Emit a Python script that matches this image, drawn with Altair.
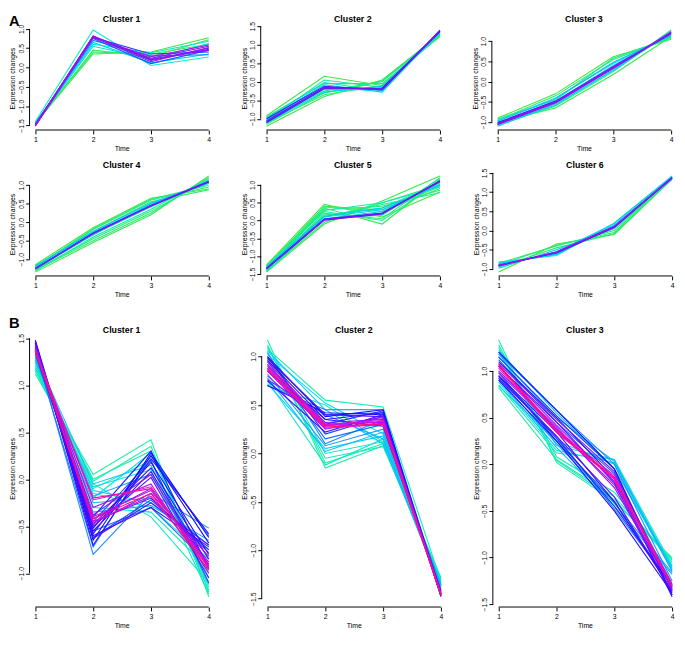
import altair as alt
import pandas as pd

FONT = "Liberation Sans"
time_points = [1, 2, 3, 4]

# ---------------- Panel A ----------------
a1_profiles = [
    [-1.45, 0.35, 0.40, 0.77], [-1.47, 0.45, 0.28, 0.72], [-1.42, 0.40, 0.35, 0.60],
    [-1.40, 0.97, 0.05, 0.27], [-1.44, 0.60, 0.38, 0.68], [-1.46, 0.55, 0.22, 0.62],
    [-1.43, 0.65, 0.12, 0.35], [-1.48, 0.70, 0.30, 0.33], [-1.50, 0.75, 0.10, 0.45],
    [-1.47, 0.78, 0.35, 0.40], [-1.50, 0.80, 0.20, 0.50], [-1.49, 0.82, 0.18, 0.47],
    [-1.51, 0.78, 0.24, 0.55], [-1.48, 0.79, 0.15, 0.52], [-1.50, 0.81, 0.22, 0.45],
    [-1.52, 0.77, 0.28, 0.58],
]
a1_membership = [0.30, 0.32, 0.35, 0.45, 0.48, 0.52, 0.55, 0.65, 0.70, 0.72,
                 0.85, 0.88, 0.90, 0.92, 0.93, 0.95]

a2_profiles = [
    [-0.92, 0.15, -0.10, 1.25], [-1.20, -0.40, 0.05, 1.28], [-1.15, -0.30, 0.02, 1.30],
    [-0.95, -0.05, -0.05, 1.22], [-1.10, -0.35, -0.10, 1.32], [-1.00, -0.25, 0.00, 1.27],
    [-1.05, 0.05, -0.15, 1.30], [-0.98, -0.02, -0.25, 1.33], [-1.12, -0.20, -0.22, 1.35],
    [-1.02, -0.08, -0.28, 1.38], [-1.08, -0.28, -0.12, 1.31], [-1.05, -0.15, -0.20, 1.37],
    [-1.10, -0.18, -0.17, 1.36], [-1.00, -0.12, -0.22, 1.40], [-1.07, -0.16, -0.19, 1.38],
    [-1.08, -0.17, -0.20, 1.37],
]
a2_membership = [0.30, 0.32, 0.33, 0.35, 0.36, 0.38, 0.40, 0.50, 0.52, 0.55, 0.57,
                 0.70, 0.75, 0.80, 0.85, 0.90]

a3_profiles = [
    [-0.90, -0.30, 0.62, 1.05], [-1.00, -0.65, 0.18, 1.12], [-0.95, -0.35, 0.55, 1.08],
    [-1.08, -0.60, 0.25, 1.28], [-0.92, -0.45, 0.58, 1.10], [-0.97, -0.40, 0.45, 1.15],
    [-1.05, -0.58, 0.30, 1.25], [-1.02, -0.48, 0.40, 1.18], [-1.10, -0.55, 0.28, 1.22],
    [-0.98, -0.42, 0.48, 1.14], [-1.03, -0.50, 0.35, 1.20], [-1.05, -0.52, 0.33, 1.22],
    [-1.01, -0.48, 0.38, 1.19], [-1.04, -0.50, 0.36, 1.21], [-1.06, -0.52, 0.34, 1.23],
]
a3_membership = [0.30, 0.32, 0.35, 0.36, 0.38, 0.50, 0.52, 0.55, 0.57, 0.60,
                 0.72, 0.78, 0.82, 0.93, 0.95]

a4_profiles = [
    [-1.15, -0.15, 0.65, 0.90], [-1.35, -0.55, 0.20, 1.25], [-1.20, -0.20, 0.60, 0.95],
    [-1.30, -0.50, 0.25, 1.20], [-1.18, -0.25, 0.55, 0.88], [-1.28, -0.45, 0.30, 1.15],
    [-1.22, -0.18, 0.62, 1.00], [-1.32, -0.40, 0.35, 1.18], [-1.25, -0.35, 0.50, 1.05],
    [-1.24, -0.28, 0.48, 1.05], [-1.27, -0.33, 0.42, 1.12], [-1.20, -0.25, 0.52, 1.08],
    [-1.26, -0.30, 0.45, 1.10], [-1.25, -0.30, 0.44, 1.09], [-1.26, -0.31, 0.45, 1.11],
]
a4_membership = [0.30, 0.32, 0.33, 0.35, 0.36, 0.37, 0.38, 0.40, 0.42, 0.52,
                 0.55, 0.58, 0.75, 0.80, 0.92]

a5_profiles = [
    [-1.25, 0.45, 0.10, 0.80], [-1.30, 0.40, 0.30, 0.95], [-1.45, -0.10, 0.55, 1.25],
    [-1.40, 0.35, -0.10, 1.15], [-1.28, 0.30, 0.40, 0.85], [-1.35, 0.20, 0.05, 1.20],
    [-1.42, -0.05, 0.50, 1.00], [-1.32, 0.38, 0.25, 0.90], [-1.38, 0.10, 0.45, 0.78],
    [-1.27, 0.25, 0.00, 1.10], [-1.36, 0.15, 0.35, 1.05], [-1.44, 0.05, 0.15, 1.18],
    [-1.33, 0.28, 0.50, 0.95], [-1.34, 0.10, 0.30, 1.02], [-1.37, 0.05, 0.25, 1.08],
    [-1.31, 0.12, 0.35, 0.98], [-1.35, 0.03, 0.20, 1.10], [-1.36, 0.01, 0.18, 1.12],
    [-1.34, 0.04, 0.21, 1.09], [-1.35, 0.02, 0.19, 1.11],
]
a5_membership = [0.30, 0.31, 0.32, 0.33, 0.34, 0.35, 0.36, 0.37, 0.38, 0.39, 0.40,
                 0.41, 0.42, 0.52, 0.55, 0.58, 0.75, 0.80, 0.85, 0.90]

a6_profiles = [
    [-1.08, -0.35, -0.10, 1.35], [-0.85, -0.40, 0.00, 1.40], [-0.95, -0.45, -0.08, 1.33],
    [-0.90, -0.38, -0.05, 1.38], [-0.82, -0.65, 0.20, 1.42], [-0.88, -0.60, 0.15, 1.36],
    [-0.93, -0.55, 0.18, 1.40], [-0.86, -0.62, 0.12, 1.34], [-0.98, -0.50, 0.05, 1.39],
    [-0.90, -0.58, 0.08, 1.37], [-0.92, -0.56, 0.10, 1.38], [-0.90, -0.57, 0.10, 1.37],
    [-0.91, -0.56, 0.11, 1.36],
]
a6_membership = [0.30, 0.32, 0.35, 0.37, 0.50, 0.53, 0.55, 0.58, 0.60, 0.75, 0.80,
                 0.92, 0.95]

# ---------------- Panel B ----------------
b1_profiles = [
    [1.12, 0.05, 0.42, -1.25], [1.18, -0.02, 0.35, -1.20], [1.20, 0.00, 0.30, -1.15],
    [1.15, -0.05, -0.40, -1.10], [1.22, -0.10, 0.20, -1.18], [1.25, -0.30, -0.35, -0.95],
    [1.17, -0.08, 0.10, -1.22], [1.28, -0.15, -0.30, -0.85], [1.30, -0.20, 0.28, -1.05],
    [1.25, -0.12, -0.25, -0.75], [1.32, -0.05, 0.15, -1.12], [1.27, -0.25, -0.20, -0.70],
    [1.35, -0.18, 0.05, -1.00], [1.30, -0.35, -0.28, -0.65], [1.38, -0.80, -0.15, -0.52],
    [1.36, -0.72, 0.25, -0.60], [1.40, -0.55, -0.30, -0.90], [1.33, -0.45, 0.20, -1.10],
    [1.42, -0.62, -0.22, -0.75], [1.37, -0.40, 0.30, -0.95], [1.45, -0.65, 0.28, -0.62],
    [1.48, -0.58, 0.25, -0.68], [1.44, -0.52, 0.18, -0.80], [1.47, -0.70, 0.22, -0.58],
    [1.43, -0.48, 0.12, -0.85], [1.46, -0.60, -0.30, -0.72], [1.41, -0.55, 0.08, -0.92],
    [1.45, -0.63, -0.25, -0.70], [1.40, -0.50, 0.02, -1.05], [1.44, -0.45, -0.20, -0.78],
    [1.42, -0.42, -0.10, -0.88], [1.39, -0.38, 0.05, -0.95], [1.41, -0.47, -0.15, -0.82],
    [1.38, -0.30, -0.05, -1.00], [1.37, -0.40, -0.12, -0.90], [1.36, -0.22, -0.08, -0.95],
    [1.38, -0.45, -0.18, -0.92], [1.35, -0.20, -0.10, -0.93], [1.36, -0.42, -0.15, -0.97],
]
b1_membership = [0.30, 0.31, 0.32, 0.33, 0.34, 0.35, 0.36, 0.37, 0.40, 0.42, 0.43, 0.45,
                 0.47, 0.48, 0.50, 0.52, 0.53, 0.55, 0.56, 0.58, 0.60, 0.61, 0.62, 0.63,
                 0.64, 0.65, 0.66, 0.67, 0.68, 0.69, 0.72, 0.74, 0.76, 0.78, 0.82, 0.85,
                 0.87, 0.92, 0.95]

b2_profiles = [
    [1.17, -0.15, 0.08, -1.28], [1.12, -0.10, 0.10, -1.30], [1.08, 0.55, 0.48, -1.32],
    [0.70, 0.50, 0.12, -1.35], [1.05, -0.05, 0.07, -1.29], [0.75, -0.12, 0.15, -1.33],
    [1.10, 0.00, 0.12, -1.31], [1.02, 0.52, 0.20, -1.36], [0.72, 0.05, 0.18, -1.34],
    [1.06, 0.45, 0.10, -1.38], [0.78, 0.02, 0.22, -1.37], [0.98, 0.40, 0.15, -1.40],
    [0.82, 0.08, 0.25, -1.36], [1.04, 0.10, 0.35, -1.42], [0.70, 0.45, 0.45, -1.43],
    [0.95, 0.15, 0.30, -1.41], [0.76, 0.40, 0.42, -1.44], [1.00, 0.20, 0.38, -1.42],
    [0.85, 0.35, 0.28, -1.43], [1.00, 0.38, 0.45, -1.46], [0.96, 0.35, 0.42, -1.47],
    [0.70, 0.42, 0.40, -1.45], [0.92, 0.30, 0.44, -1.48], [0.75, 0.22, 0.40, -1.46],
    [0.98, 0.40, 0.38, -1.47], [0.90, 0.32, 0.35, -1.46], [0.85, 0.25, 0.38, -1.45],
    [0.95, 0.30, 0.32, -1.47], [0.80, 0.28, 0.36, -1.44], [0.88, 0.29, 0.33, -1.45],
    [0.86, 0.26, 0.30, -1.46], [0.92, 0.30, 0.34, -1.45], [0.88, 0.28, 0.30, -1.45],
    [0.87, 0.27, 0.31, -1.46],
]
b2_membership = [0.30, 0.31, 0.32, 0.33, 0.34, 0.35, 0.36, 0.40, 0.42, 0.43, 0.45, 0.46,
                 0.48, 0.50, 0.52, 0.53, 0.55, 0.56, 0.58, 0.60, 0.62, 0.63, 0.65, 0.66,
                 0.68, 0.72, 0.74, 0.76, 0.78, 0.82, 0.85, 0.87, 0.92, 0.95]

b3_profiles = [
    [1.33, 0.02, -0.40, -1.00], [0.82, 0.05, -0.35, -1.02], [1.28, 0.08, -0.30, -1.05],
    [0.85, 0.12, 0.05, -1.08], [1.25, 0.04, -0.38, -1.03], [0.88, 0.15, 0.02, -1.10],
    [1.20, 0.20, 0.05, -1.12], [0.84, 0.25, 0.00, -1.15], [1.22, 0.55, -0.05, -1.10],
    [0.90, 0.18, -0.45, -1.18], [1.15, 0.50, 0.03, -1.14], [0.92, 0.22, -0.42, -1.16],
    [1.18, 0.58, 0.00, -1.25], [0.95, 0.30, -0.48, -1.30], [1.12, 0.45, -0.10, -1.28],
    [0.98, 0.25, -0.40, -1.32], [1.15, 0.52, -0.05, -1.35], [0.94, 0.28, -0.45, -1.30],
    [1.20, 0.58, -0.05, -1.40], [0.90, 0.25, -0.50, -1.38], [1.10, 0.50, -0.15, -1.42],
    [0.95, 0.35, -0.40, -1.36], [1.05, 0.45, -0.20, -1.40], [0.92, 0.30, -0.35, -1.37],
    [1.08, 0.48, -0.08, -1.35], [1.00, 0.40, -0.25, -1.33], [1.05, 0.42, -0.18, -1.34],
    [0.98, 0.38, -0.22, -1.32], [1.06, 0.37, -0.12, -1.30], [1.03, 0.34, -0.16, -1.31],
    [1.05, 0.35, -0.15, -1.30], [1.07, 0.36, -0.14, -1.29],
]
b3_membership = [0.30, 0.31, 0.32, 0.33, 0.34, 0.35, 0.40, 0.42, 0.43, 0.45, 0.46, 0.48,
                 0.50, 0.52, 0.53, 0.55, 0.56, 0.58, 0.60, 0.62, 0.63, 0.65, 0.66, 0.68,
                 0.72, 0.74, 0.76, 0.78, 0.82, 0.85, 0.92, 0.95]

# y-axis tick values per panel
a1_ticks = [-1.5, -1.0, -0.5, 0.0, 0.5, 1.0]
a2_ticks = [-1.0, -0.5, 0.0, 0.5, 1.0, 1.5]
a3_ticks = [-1.0, -0.5, 0.0, 0.5, 1.0]
a4_ticks = [-1.0, -0.5, 0.0, 0.5, 1.0]
a5_ticks = [-1.5, -1.0, -0.5, 0.0, 0.5, 1.0]
a6_ticks = [-1.0, -0.5, 0.0, 0.5, 1.0, 1.5]
b1_ticks = [-1.0, -0.5, 0.0, 0.5, 1.0, 1.5]
b2_ticks = [-1.5, -1.0, -0.5, 0.0, 0.5, 1.0]
b3_ticks = [-1.5, -1.0, -0.5, 0.0, 0.5, 1.0]

# membership colour palettes
a_color_domain = [0.30, 0.45, 0.60, 0.75, 0.95]
a_color_range = ["#3be83b", "#00f0c8", "#00c0ff", "#1f1fff", "#a010f0"]
b_color_domain = [0.30, 0.40, 0.50, 0.60, 0.72, 0.85, 0.95]
b_color_range = ["#1ef0a0", "#00e0f5", "#1e8cff", "#0a0aff", "#7a10ff", "#e010e0", "#ff0a80"]


def panel(name, profiles, membership, yticks, title, width, height,
          cdom, crange, tag, show_tag, title_top, tag_top):
    rows = []
    order = sorted(range(len(profiles)), key=lambda i: membership[i])
    for rank, i in enumerate(order):
        for t, v in zip(time_points, profiles[i]):
            rows.append({"gene": f"{name}_{rank:03d}", "time": t, "value": v,
                         "membership": membership[i]})
    df = pd.DataFrame(rows)
    vals = [v for p in profiles for v in p]
    lo, hi = min(vals), max(vals)
    pad = 0.04 * (hi - lo)
    ydom = [min(lo - pad, yticks[0]), max(hi + pad, yticks[-1])]
    xdom = [time_points[0] - 0.10, time_points[-1] + 0.085]
    xscale = alt.Scale(domain=xdom, nice=False, zero=False)
    yscale = alt.Scale(domain=ydom, nice=False, zero=False)

    xaxis = alt.Axis(values=time_points, format="d", title="Time", domain=False,
                     grid=False, ticks=True, tickColor="black", tickSize=4,
                     labelFontSize=7, titleFontSize=7, titleFontWeight="normal",
                     labelFont=FONT, titleFont=FONT, labelColor="black",
                     titleColor="black", labelPadding=2, titlePadding=2,
                     labelOverlap=False, labelSeparation=0)
    yaxis = alt.Axis(values=yticks, format=".1f", title="Expression changes",
                     domain=False, grid=False, ticks=True, tickColor="black",
                     tickSize=4, labelAngle=270, labelAlign="center",
                     labelBaseline="bottom", labelFontSize=7, titleFontSize=7,
                     titleFontWeight="normal", labelFont=FONT, titleFont=FONT,
                     labelColor="black", titleColor="black", labelPadding=1,
                     titlePadding=2, labelOverlap=False, labelSeparation=0)

    lines = alt.Chart(df).mark_line(strokeWidth=1.1).encode(
        x=alt.X("time:Q", scale=xscale, axis=xaxis),
        y=alt.Y("value:Q", scale=yscale, axis=yaxis),
        detail="gene:N",
        color=alt.Color("membership:Q",
                        scale=alt.Scale(domain=cdom, range=crange, interpolate="rgb"),
                        legend=None),
    )
    xline_df = pd.DataFrame({"time": [time_points[0]], "time2": [time_points[-1]],
                             "value": [ydom[0]]})
    xline = alt.Chart(xline_df).mark_rule(color="black", strokeWidth=1).encode(
        x=alt.X("time:Q", scale=xscale, axis=xaxis), x2="time2:Q",
        y=alt.Y("value:Q", scale=yscale, axis=yaxis))
    yline_df = pd.DataFrame({"time": [xdom[0]], "value": [yticks[0]],
                             "value2": [yticks[-1]]})
    yline = alt.Chart(yline_df).mark_rule(color="black", strokeWidth=1).encode(
        x=alt.X("time:Q", scale=xscale, axis=xaxis),
        y=alt.Y("value:Q", scale=yscale, axis=yaxis), y2="value2:Q")
    title_text = alt.Chart(pd.DataFrame({"label": [title]})).mark_text(
        fontSize=9, fontWeight="bold", font=FONT, align="center",
        baseline="top", color="black").encode(
        text="label:N", x=alt.value(width / 2), y=alt.value(title_top))
    tag_text = alt.Chart(pd.DataFrame({"label": [tag]})).mark_text(
        fontSize=15, fontWeight="bold", font=FONT, align="left",
        baseline="top", color="black", opacity=1 if show_tag else 0).encode(
        text="label:N", x=alt.value(-21), y=alt.value(tag_top))
    return alt.layer(lines, xline, yline, title_text, tag_text).properties(
        width=width, height=height)


AW, AH = 188, 106
BW, BH = 188, 283
HSP = 27

row1 = alt.hconcat(
    panel("a1", a1_profiles, a1_membership, a1_ticks, "Cluster 1", AW, AH,
          a_color_domain, a_color_range, "A", True, -11, -12),
    panel("a2", a2_profiles, a2_membership, a2_ticks, "Cluster 2", AW, AH,
          a_color_domain, a_color_range, "A", False, -11, -12),
    panel("a3", a3_profiles, a3_membership, a3_ticks, "Cluster 3", AW, AH,
          a_color_domain, a_color_range, "A", False, -11, -12),
    spacing=HSP,
).resolve_scale(x="independent", y="independent", color="independent")

row2 = alt.hconcat(
    panel("a4", a4_profiles, a4_membership, a4_ticks, "Cluster 4", AW, AH,
          a_color_domain, a_color_range, "A", False, -11, -12),
    panel("a5", a5_profiles, a5_membership, a5_ticks, "Cluster 5", AW, AH,
          a_color_domain, a_color_range, "A", False, -11, -12),
    panel("a6", a6_profiles, a6_membership, a6_ticks, "Cluster 6", AW, AH,
          a_color_domain, a_color_range, "A", False, -11, -12),
    spacing=HSP,
).resolve_scale(x="independent", y="independent", color="independent")

row3 = alt.hconcat(
    panel("b1", b1_profiles, b1_membership, b1_ticks, "Cluster 1", BW, BH,
          b_color_domain, b_color_range, "B", True, -4, -14),
    panel("b2", b2_profiles, b2_membership, b2_ticks, "Cluster 2", BW, BH,
          b_color_domain, b_color_range, "B", False, -4, -14),
    panel("b3", b3_profiles, b3_membership, b3_ticks, "Cluster 3", BW, BH,
          b_color_domain, b_color_range, "B", False, -4, -14),
    spacing=HSP,
).resolve_scale(x="independent", y="independent", color="independent")

top = alt.vconcat(row1, row2, spacing=9).resolve_scale(
    x="independent", y="independent", color="independent")

chart = alt.vconcat(top, row3, spacing=19).resolve_scale(
    x="independent", y="independent", color="independent"
).properties(
    padding={"left": 0, "top": 0, "right": 0, "bottom": 0}, background="white"
).configure_view(
    stroke=None
).configure_axis(labelOverlap=False, labelSeparation=0)

chart.save("out.html", embed_options={"renderer": "svg", "actions": False})
